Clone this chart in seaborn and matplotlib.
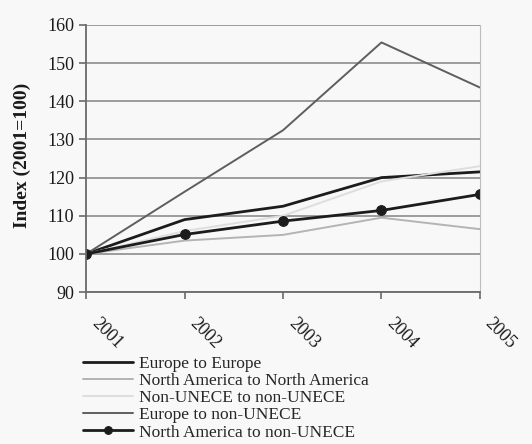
import numpy as np
import pandas as pd
import matplotlib
matplotlib.use("Agg")
import matplotlib.pyplot as plt
import matplotlib.transforms as mtrans
import seaborn as sns

# datos (indice 2001=100)
anios = ["2001", "2002", "2003", "2004", "2005"]
europa_europa = [100, 109, 112.5, 120, 121.5]
na_na = [100, 103.5, 105, 109.5, 106.5]
nounece_nounece = [100, 106, 110, 119, 123]
europa_nounece = [100, 116.3, 132.4, 155.4, 143.6]
na_nounece = [100, 105.1, 108.6, 111.4, 115.6]

series = {
    "Europe to Europe": europa_europa,
    "North America to North America": na_na,
    "Non-UNECE to non-UNECE": nounece_nounece,
    "Europe to non-UNECE": europa_nounece,
    "North America to non-UNECE": na_nounece,
}
estilos = {
    "Europe to Europe": dict(color="#1c1c1c", lw=2.0, marker=None),
    "North America to North America": dict(color="#b4b4b4", lw=1.4, marker=None),
    "Non-UNECE to non-UNECE": dict(color="#dedede", lw=1.4, marker=None),
    "Europe to non-UNECE": dict(color="#5e5e5e", lw=1.4, marker=None),
    "North America to non-UNECE": dict(color="#1c1c1c", lw=2.0, marker="o"),
}

df = pd.DataFrame({"anio": anios * len(series),
                   "serie": np.repeat(list(series.keys()), len(anios)),
                   "valor": np.concatenate([series[k] for k in series])})
df["x"] = df["anio"].astype(int)

sns.set_style("white")
plt.rcParams["font.family"] = ["Liberation Serif", "DejaVu Serif"]

fig = plt.figure(figsize=(5.32, 4.44), dpi=100, facecolor="#f8f8f8")
ax = fig.add_axes([0.162, 0.342, 0.74, 0.602])
ax.set_facecolor("#f8f8f8")

for nombre, st in estilos.items():
    sub = df[df["serie"] == nombre]
    sns.lineplot(data=sub, x="x", y="valor", ax=ax, color=st["color"],
                 linewidth=st["lw"], marker=st["marker"], markersize=7,
                 markeredgecolor=st["color"], label=nombre)

ax.set_xlim(2001, 2005)
ax.set_ylim(90, 160)
ax.set_yticks(range(90, 161, 10))
ax.set_xticks([int(a) for a in anios])
ax.set_xticklabels(anios, rotation=-45, ha="left", rotation_mode="anchor")
ax.grid(axis="y", color="#8c8c8c", lw=1.2)
ax.grid(axis="x", visible=False)
for s in ["left", "bottom"]:
    ax.spines[s].set_color("#6a6a6a")
    ax.spines[s].set_linewidth(1.3)
ax.spines["right"].set_color("#bdbdbd")
ax.spines["top"].set_visible(False)
ax.tick_params(axis="both", labelsize=13, colors="#6a6a6a", labelcolor="#1a1a1a",
               length=5, width=1.2, direction="out", left=True, bottom=True)
ax.tick_params(axis="x", pad=11)
desplaza = mtrans.ScaledTranslation(14 / 100, 0, fig.dpi_scale_trans)
for lab in ax.get_xticklabels():
    lab.set_transform(lab.get_transform() + desplaza)
ax.set_xlabel("")
ax.set_ylabel("Index (2001=100)", fontsize=14, fontweight="bold", color="#1a1a1a")
ax.yaxis.set_label_coords(-0.14, 0.51)

leg = ax.legend(loc="upper left", bbox_to_anchor=(-0.03, -0.205), frameon=False,
                fontsize=12.5, handlelength=2.9, handletextpad=0.3,
                labelspacing=0.06, borderpad=0, markerscale=0.8)

fig.savefig("out.png", dpi=100, facecolor=fig.get_facecolor())
